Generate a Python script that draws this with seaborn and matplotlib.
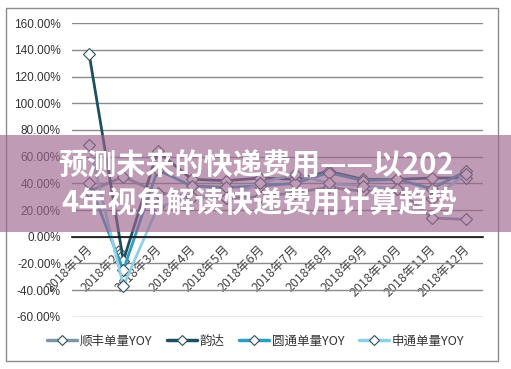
import numpy as np
import pandas as pd
import seaborn as sns
import matplotlib
matplotlib.use("Agg")
import matplotlib.pyplot as plt
from matplotlib.ticker import FuncFormatter
from matplotlib.patches import Rectangle
from matplotlib.lines import Line2D
import matplotlib.transforms as mtransforms

months = ["2018年1月", "2018年2月", "2018年3月", "2018年4月", "2018年5月", "2018年6月",
          "2018年7月", "2018年8月", "2018年9月", "2018年10月", "2018年11月", "2018年12月"]
series_names = ["顺丰单量YOY", "韵达", "圆通单量YOY", "申通单量YOY"]
sf = [0.34, 0.45, 0.33, 0.30, 0.29, 0.30, 0.33, 0.37, 0.34, 0.36, 0.14, 0.13]
yd = [1.37, -0.18, 0.64, 0.43, 0.42, 0.44, 0.43, 0.49, 0.43, 0.43, 0.44, 0.44]
yt = [0.40, -0.25, 0.50, 0.38, 0.37, 0.38, 0.40, 0.48, 0.42, 0.43, 0.36, 0.49]
st = [0.69, -0.37, 0.22, 0.30, 0.29, 0.40, 0.47, 0.40, 0.38, 0.36, 0.28, 0.47]
colors = ["#7d97a6", "#1d4f5e", "#2b9dc0", "#8fd0e6"]
edge = "#2f5260"

values = [sf, yd, yt, st]
df = pd.DataFrame({
    "month": months * 4,
    "value": sum(values, []),
    "series": sum([[n] * len(months) for n in series_names], []),
})

sns.set_theme(style="white")
plt.rcParams["font.family"] = ["Liberation Sans", "Noto Sans CJK SC", "DejaVu Sans"]

fig = plt.figure(figsize=(5.11, 3.69), dpi=100)
ax = fig.add_axes([72 / 511, 1 - 316.7 / 369, (483 - 72) / 511, (316.7 - 23.3) / 369])

sns.lineplot(data=df, x="month", y="value", hue="series", style="series",
             hue_order=series_names, style_order=series_names,
             palette=colors, markers=["D"] * 4, dashes=False, sort=False,
             linewidth=2.0, markersize=6, markerfacecolor="white",
             markeredgewidth=0.8, ax=ax, legend=False)
for ln in ax.lines:
    ln.set_markeredgecolor(edge)

ax.set_xlim(-0.5, 11.5)
ax.set_ylim(-0.6, 1.6)
ax.set_yticks(np.arange(-0.6, 1.61, 0.2))
ax.yaxis.set_major_formatter(FuncFormatter(lambda v, p: f"{v * 100:.2f}%"))
ax.grid(axis="y", color="#8a8a8a", linewidth=1.0)
ax.set_axisbelow(True)
ax.set_xlabel("")
ax.set_ylabel("")
for s in ["left", "right", "top"]:
    ax.spines[s].set_visible(False)
ax.spines["bottom"].set_position(("data", 0))
ax.spines["bottom"].set_color("#111111")
ax.spines["bottom"].set_linewidth(1.2)
ax.tick_params(axis="y", length=0, pad=8, labelsize=8.5, labelcolor="#333333")
ax.tick_params(axis="x", length=0, pad=2)
ax.set_xticks(range(len(months)))
ax.set_xticklabels(months, rotation=45, ha="right", va="center", rotation_mode="anchor",
                   fontsize=9, color="#444444", family=["Noto Sans CJK SC", "DejaVu Sans"])
for lab in ax.get_xticklabels():
    lab.set_transform(lab.get_transform() + mtransforms.ScaledTranslation(2 / 100, -8 / 100, fig.dpi_scale_trans))

handles = [Line2D([], [], color=c, linewidth=2.5, marker="D", markersize=5.5,
                  markerfacecolor="white", markeredgecolor=edge, markeredgewidth=0.8)
           for c in colors]
leg = fig.legend(handles, series_names, loc="center", bbox_to_anchor=(0.5, 1 - 341 / 369), ncol=4,
                 frameon=False, handlelength=2.4, handletextpad=0.2, columnspacing=1.2,
                 prop={"family": ["Noto Sans CJK SC", "DejaVu Sans"], "size": 9})
for t in leg.get_texts():
    t.set_color("#333333")

fig.patches.append(Rectangle((6 / 511, 1 - 361 / 369), (498 - 6) / 511, (361 - 8) / 369,
                             transform=fig.transFigure, fill=False, edgecolor="#8c8c8c",
                             linewidth=1.0, zorder=0))

# banner overlay
fig.patches.append(Rectangle((0, 1 - 232 / 369), 1, 97 / 369, transform=fig.transFigure,
                             facecolor=(0.62, 0.40, 0.56), alpha=0.65, edgecolor="none",
                             zorder=10))
tfont = dict(family=["Noto Sans CJK SC", "DejaVu Sans"], fontsize=21, fontweight="bold",
             color="white", ha="center", va="center", zorder=11)
fig.text(256 / 511, 1 - 165 / 369, "预测未来的快递费用——以202", **tfont)
fig.text(259.5 / 511, 1 - 202 / 369, "4年视角解读快递费用计算趋势", **tfont)

fig.savefig("out.png", dpi=100)
